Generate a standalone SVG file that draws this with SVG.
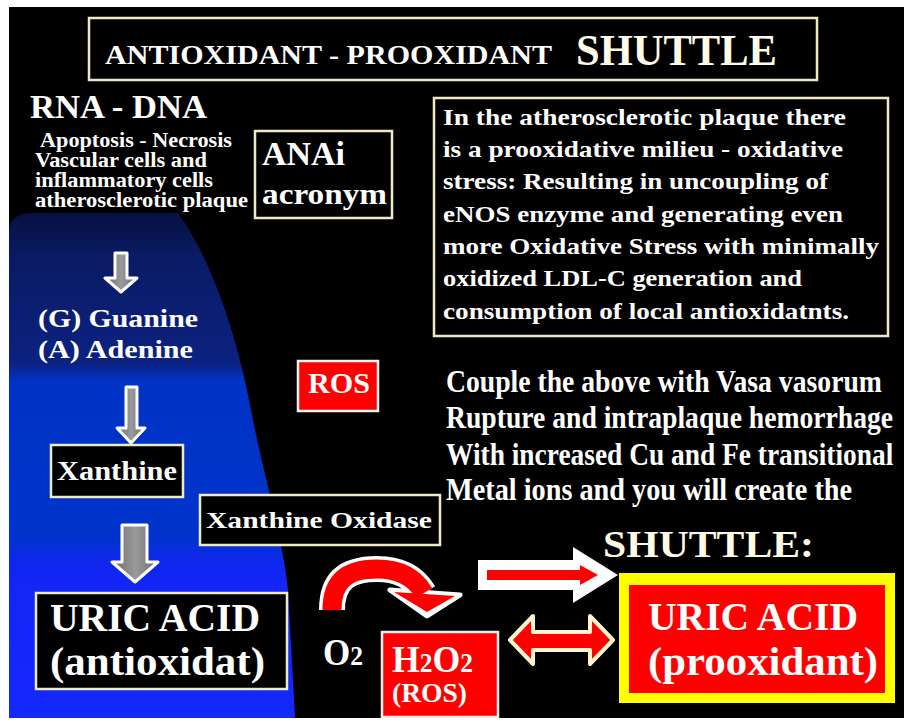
<svg xmlns="http://www.w3.org/2000/svg" width="904" height="723" viewBox="0 0 904 723">
<defs>
<linearGradient id="blueg" x1="0" y1="213" x2="0" y2="718" gradientUnits="userSpaceOnUse">
<stop offset="0" stop-color="#061040"/>
<stop offset="0.08" stop-color="#0a1a62"/>
<stop offset="0.3" stop-color="#0c2282"/>
<stop offset="0.33" stop-color="#0032c4"/>
<stop offset="0.64" stop-color="#0034cc"/>
<stop offset="0.7" stop-color="#1226f2"/>
<stop offset="1" stop-color="#1428ff"/>
</linearGradient>
<linearGradient id="grayg" x1="0" y1="0" x2="1" y2="0">
<stop offset="0" stop-color="#6c6c6c"/>
<stop offset="0.5" stop-color="#9a9a9a"/>
<stop offset="1" stop-color="#6c6c6c"/>
</linearGradient>
</defs>
<style>
text{font-family:"Liberation Serif","DejaVu Serif",serif;font-weight:bold;fill:#ffffff}
.cream{fill:#fffbe6}
.box{fill:#000000;stroke:#efe9c4;stroke-width:2.5}
.redbox{fill:#ff0000;stroke:#f4f4f4;stroke-width:2.5}
.garrow{fill:url(#grayg);stroke:#ffffff;stroke-width:3;stroke-linejoin:round}
.couple{font-size:31px}
</style>
<rect x="0" y="0" width="904" height="723" fill="#ffffff"/>
<rect x="9" y="7" width="895" height="711" fill="#000000"/>
<path d="M9,228 Q12,214 30,213 L178,213 C205,250 235,320 253,420 C265,480 283,540 288,590 L295,718 L9,718 Z" fill="url(#blueg)"/>

<g id="title">
<rect class="box" x="89" y="18" width="728" height="62"/>
<text x="105" y="64" font-size="28" textLength="447" lengthAdjust="spacingAndGlyphs">ANTIOXIDANT - PROOXIDANT</text>
<text class="cream" x="576" y="65" font-size="44" textLength="201" lengthAdjust="spacingAndGlyphs">SHUTTLE</text>
</g>

<g id="rna-dna">
<text x="30" y="118" font-size="33" textLength="177" lengthAdjust="spacingAndGlyphs">RNA - DNA</text>
<text x="40" y="147" font-size="20" textLength="192" lengthAdjust="spacingAndGlyphs">Apoptosis - Necrosis</text>
<text x="35" y="167" font-size="20" textLength="172" lengthAdjust="spacingAndGlyphs">Vascular cells and</text>
<text x="35" y="187" font-size="20" textLength="178" lengthAdjust="spacingAndGlyphs">inflammatory cells</text>
<text x="35" y="207" font-size="20" textLength="213" lengthAdjust="spacingAndGlyphs">atherosclerotic plaque</text>
</g>

<g id="anai">
<rect class="box" x="255" y="131" width="137" height="87"/>
<text x="262" y="165" font-size="33" textLength="83" lengthAdjust="spacingAndGlyphs">ANAi</text>
<text x="262" y="204" font-size="30" textLength="125" lengthAdjust="spacingAndGlyphs">acronym</text>
</g>

<g id="info">
<rect class="box" x="434" y="98" width="454" height="238"/>
<text x="443" y="125" font-size="23" textLength="403" lengthAdjust="spacingAndGlyphs">In the atherosclerotic plaque there</text>
<text x="443" y="157" font-size="23" textLength="400" lengthAdjust="spacingAndGlyphs">is a prooxidative milieu - oxidative</text>
<text x="443" y="189" font-size="23" textLength="385" lengthAdjust="spacingAndGlyphs">stress: Resulting in uncoupling of</text>
<text x="443" y="222" font-size="23" textLength="400" lengthAdjust="spacingAndGlyphs">eNOS enzyme and generating even</text>
<text x="443" y="254" font-size="23" textLength="436" lengthAdjust="spacingAndGlyphs">more Oxidative Stress with minimally</text>
<text x="443" y="286" font-size="23" textLength="359" lengthAdjust="spacingAndGlyphs">oxidized LDL-C generation and</text>
<text x="443" y="319" font-size="23" textLength="406" lengthAdjust="spacingAndGlyphs">consumption of local antioxidatnts.</text>
</g>

<g id="bases">
<text x="38" y="327" font-size="25" textLength="160" lengthAdjust="spacingAndGlyphs">(G) Guanine</text>
<text x="38" y="358" font-size="25" textLength="155" lengthAdjust="spacingAndGlyphs">(A) Adenine</text>
</g>

<g id="ros">
<rect class="redbox" x="298" y="361" width="80" height="50"/>
<text x="308" y="393" font-size="29" textLength="62" lengthAdjust="spacingAndGlyphs">ROS</text>
</g>

<g id="couple">
<text class="couple" transform="translate(446,392) scale(0.893,1)" x="0" y="0">Couple the above with Vasa vasorum</text>
<text class="couple" transform="translate(446,428) scale(0.892,1)" x="0" y="0">Rupture and intraplaque hemorrhage</text>
<text class="couple" transform="translate(446,465) scale(0.884,1)" x="0" y="0">With increased Cu and Fe transitional</text>
<text class="couple" transform="translate(446,500) scale(0.912,1)" x="0" y="0">Metal ions and you will create the</text>
</g>

<g id="xanthine">
<rect class="box" x="51" y="445" width="132" height="52" stroke="#f4f0d8"/>
<text x="57" y="480" font-size="27" textLength="120" lengthAdjust="spacingAndGlyphs">Xanthine</text>
</g>

<g id="xanthine-oxidase">
<rect class="box" x="200" y="495" width="240" height="50"/>
<text x="206" y="528" font-size="24" textLength="226" lengthAdjust="spacingAndGlyphs">Xanthine Oxidase</text>
</g>

<g id="uric-anti">
<rect class="box" x="36" y="593" width="251" height="96"/>
<text x="50" y="631" font-size="40" textLength="210" lengthAdjust="spacingAndGlyphs">URIC ACID</text>
<text x="50" y="675" font-size="40" textLength="215" lengthAdjust="spacingAndGlyphs">(antioxidat)</text>
</g>

<g id="shuttle-label">
<text class="cream" x="603" y="557" font-size="38" textLength="211" lengthAdjust="spacingAndGlyphs">SHUTTLE:</text>
</g>

<g id="uric-pro">
<rect x="619" y="573" width="276" height="130" fill="#ffff00"/>
<rect x="629" y="585" width="256" height="108" fill="#ff0000"/>
<text x="648" y="630" font-size="40" textLength="210" lengthAdjust="spacingAndGlyphs">URIC ACID</text>
<text x="648" y="675" font-size="40" textLength="230" lengthAdjust="spacingAndGlyphs">(prooxidant)</text>
</g>

<g id="o2">
<text x="323" y="665" textLength="40" lengthAdjust="spacingAndGlyphs"><tspan font-size="37">O</tspan><tspan font-size="27">2</tspan></text>
</g>

<g id="h2o2">
<rect x="382" y="632" width="116" height="85" fill="#ff0000" stroke="#e8f0f4" stroke-width="2.5"/>
<text x="392" y="672" textLength="81" lengthAdjust="spacingAndGlyphs"><tspan font-size="38">H</tspan><tspan font-size="27">2</tspan><tspan font-size="38">O</tspan><tspan font-size="27">2</tspan></text>
<text x="392" y="702" font-size="27" textLength="75" lengthAdjust="spacingAndGlyphs">(ROS)</text>
</g>

<g id="connectors">
<polygon class="garrow" points="115,253 127,253 127,278 137,278 121,292 105,278 115,278"/>
<polygon class="garrow" points="126,387 137,387 137,428 145,428 131,443 117,428 126,428"/>
<polygon class="garrow" points="122,525 147,525 147,562 158,562 135,582 112,562 122,562"/>
<path d="M332,610 C332,578 350,569 377,569 C400,569 415,578 424,593" fill="none" stroke="#ffffff" stroke-width="26"/>
<polygon points="390,590 460,595 427,616" fill="#ffffff" stroke="#ffffff" stroke-width="5" stroke-linejoin="round"/>
<path d="M332,610 C332,578 350,569 377,569 C400,569 415,578 424,593" fill="none" stroke="#ff0000" stroke-width="19"/>
<polygon points="394,592 455,596 427,612" fill="#ff0000"/>
<polygon points="478,560 573,560 573,547 618,575 573,603 573,590 478,590" fill="#ffffff"/>
<polygon points="487,570 580,570 580,565 598,575 580,585 580,580 487,580" fill="#ff0000"/>
<polygon points="510,640 533,616 533,632 590,632 590,616 613,640 590,664 590,650 533,650 533,664" fill="#ff0000" stroke="#fff6d0" stroke-width="4" stroke-linejoin="round"/>
</g>
</svg>
